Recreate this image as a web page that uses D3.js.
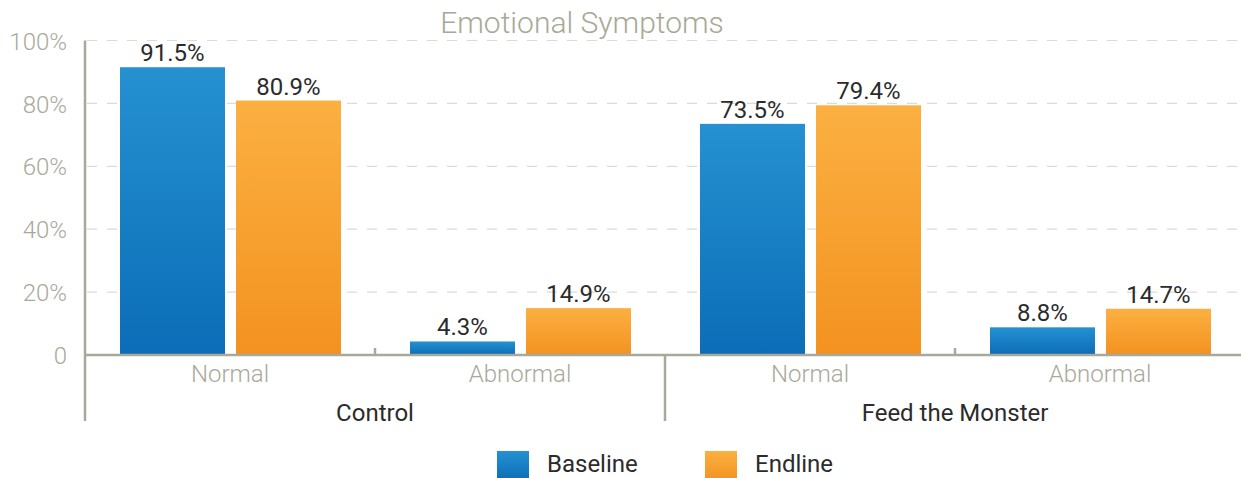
<!DOCTYPE html>
<html>
<head>
<meta charset="utf-8">
<script src="https://cdn.jsdelivr.net/npm/d3@7"></script>
<style>
  body { margin: 0; background: #fff; }
  svg { display: block; font-family: Roboto, "Open Sans", sans-serif; }
</style>
</head>
<body>
<svg id="chart"></svg>
<script>
// chart values
const title = 'Emotional Symptoms';
const groups = ['Control', 'Feed the Monster'];
const categories = ['Normal', 'Abnormal'];
const series = ['Baseline', 'Endline'];
const baselineValues = [91.5, 4.3, 73.5, 8.8];
const endlineValues = [80.9, 14.9, 79.4, 14.7];
const yTicks = [0, 20, 40, 60, 80, 100];

const width = 1241, height = 478;
const gray = '#a9a99b';
const dark = '#2b2b2b';

const svg = d3.select('#chart').attr('width', width).attr('height', height);

// one slot per group/category pair
const slots = [];
groups.forEach(g => categories.forEach(c => slots.push({ group: g, cat: c, key: g + '|' + c })));
slots.forEach((s, i) => {
    s.values = [baselineValues[i], endlineValues[i]];
});

const x = d3.scaleBand().domain(slots.map(s => s.key)).range([85, 1245]);
const xInner = d3.scaleBand().domain(series).range([35, 256]).paddingInner(0.095);
const y = d3.scaleLinear().domain([0, 100]).range([355, 40.5]);

// gradients
const defs = svg.append('defs');
const gradColors = { Baseline: ['#2591d1', '#0b6db7'], Endline: ['#fbb041', '#f39220'] };
series.forEach(s => {
    const g = defs.append('linearGradient').attr('id', 'grad-' + s)
        .attr('x1', 0).attr('y1', 0).attr('x2', 0).attr('y2', 1);
    g.append('stop').attr('offset', '0%').attr('stop-color', gradColors[s][0]);
    g.append('stop').attr('offset', '100%').attr('stop-color', gradColors[s][1]);
});

// gridlines
svg.append('g')
    .selectAll('line')
    .data(yTicks.filter(d => d > 0))
    .enter()
    .append('line')
    .attr('x1', 87).attr('x2', width)
    .attr('y1', d => y(d)).attr('y2', d => y(d))
    .attr('stroke', '#dcdcd6')
    .attr('stroke-width', 1.2)
    .attr('stroke-dasharray', '10,10');

// title
svg.append('text')
    .attr('x', 582).attr('y', 33)
    .attr('text-anchor', 'middle')
    .attr('fill', '#a8a896')
    .attr('font-size', 30)
    .attr('font-weight', 300)
    .text(title);

// y axis labels
const yAxis = d3.axisLeft(y)
    .tickValues(yTicks)
    .tickSize(0)
    .tickPadding(0)
    .tickFormat(d => d === 0 ? '0' : d + '%');

svg.append('g')
    .attr('transform', 'translate(67,0)')
    .call(yAxis)
    .call(g => g.select('.domain').remove())
    .call(g => g.selectAll('text')
        .attr('fill', gray)
        .attr('font-size', 24)
        .attr('font-weight', 300)
        .attr('font-family', 'Roboto, sans-serif')
        .attr('dy', '0.36em'));

// bars
const slotG = svg.append('g')
    .selectAll('g')
    .data(slots)
    .enter()
    .append('g')
    .attr('transform', d => `translate(${x(d.key)},0)`);

slotG.selectAll('rect')
    .data(d => d.values.map((v, i) => ({ series: series[i], value: v })))
    .enter()
    .append('rect')
    .attr('x', d => xInner(d.series))
    .attr('width', xInner.bandwidth())
    .attr('y', d => y(d.value))
    .attr('height', d => y(0) - y(d.value))
    .attr('fill', d => `url(#grad-${d.series})`);

slotG.selectAll('text.value')
    .data(d => d.values.map((v, i) => ({ series: series[i], value: v })))
    .enter()
    .append('text')
    .attr('class', 'value')
    .attr('x', d => xInner(d.series) + xInner.bandwidth() / 2)
    .attr('y', d => y(d.value) - 6)
    .attr('text-anchor', 'middle')
    .attr('fill', dark)
    .attr('font-size', 24)
    .text(d => d.value.toFixed(1) + '%');

// category labels
slotG.append('text')
    .attr('x', x.bandwidth() / 2)
    .attr('y', 382)
    .attr('text-anchor', 'middle')
    .attr('fill', gray)
    .attr('font-size', 24)
    .attr('font-weight', 300)
    .text(d => d.cat);

// axis lines
const axisG = svg.append('g').attr('stroke', gray).attr('stroke-width', 2.5);
axisG.append('line').attr('x1', 85).attr('x2', 85).attr('y1', y(100)).attr('y2', 421);
axisG.append('line').attr('x1', 85).attr('x2', width).attr('y1', y(0)).attr('y2', y(0));

// group separators and inner ticks
groups.forEach((g, gi) => {
    const first = x(g + '|' + categories[0]);
    const last = x(g + '|' + categories[categories.length - 1]) + x.bandwidth();
    const mid = x(g + '|' + categories[1]);
    axisG.append('line').attr('x1', mid).attr('x2', mid).attr('y1', y(0) - 7).attr('y2', y(0));
    if (gi < groups.length - 1) {
        axisG.append('line').attr('x1', last).attr('x2', last).attr('y1', y(0)).attr('y2', 421);
    }
    svg.append('text')
        .attr('x', (first + last) / 2)
        .attr('y', 421)
        .attr('text-anchor', 'middle')
        .attr('fill', dark)
        .attr('font-size', 24)
        .text(g);
});

// legend
const legendX = d3.scaleOrdinal().domain(series).range([497, 705]);
const legend = svg.append('g')
    .selectAll('g')
    .data(series)
    .enter()
    .append('g')
    .attr('transform', d => `translate(${legendX(d)},451)`);

legend.append('rect')
    .attr('width', 32).attr('height', 30)
    .attr('fill', d => `url(#grad-${d})`);

legend.append('text')
    .attr('x', 50)
    .attr('y', 21)
    .attr('fill', dark)
    .attr('font-size', 24)
    .text(d => d);
</script>
</body>
</html>
